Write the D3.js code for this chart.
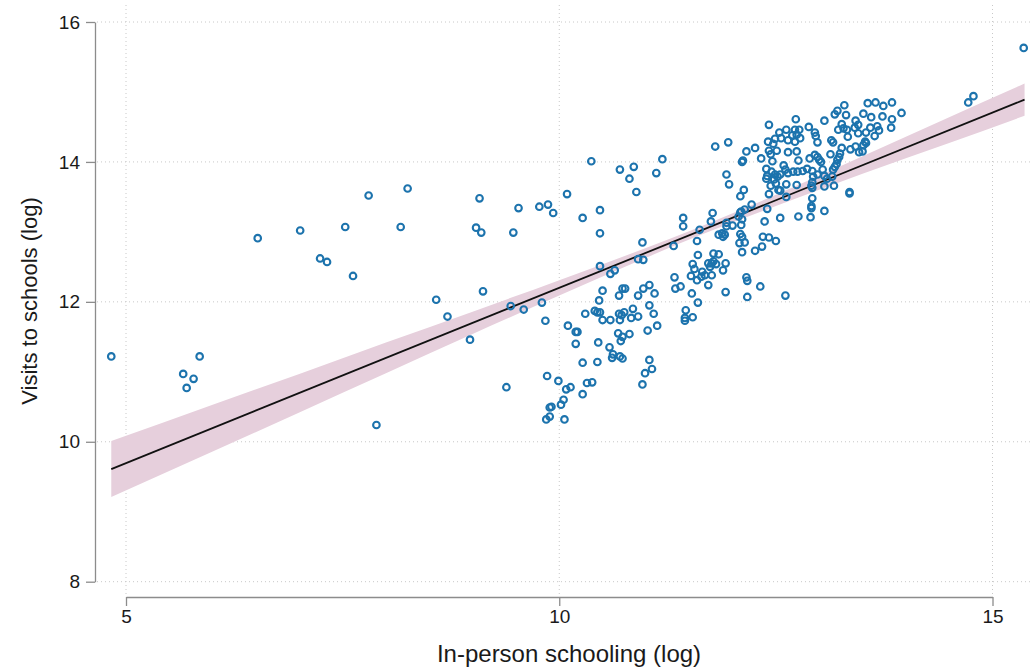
<!DOCTYPE html>
<html>
<head>
<meta charset="utf-8">
<script src="https://cdn.jsdelivr.net/npm/d3@7"></script>
<style>
  html, body { margin: 0; padding: 0; background: #fff; }
  svg { display: block; font-family: "Liberation Sans", Arial, Helvetica, sans-serif; }
</style>
</head>
<body>
<svg id="chart" width="1032" height="672"></svg>
<script>
// ---- data ----
const xTicks = [5, 10, 15];
const yTicks = [8, 10, 12, 14, 16];
const xTitle = "In-person schooling (log)";
const yTitle = "Visits to schools (log)";

// fitted line endpoints
const fitX = [4.83, 15.37];
const fitY = [9.61, 14.89];

// confidence band
const bandX  = [4.83, 6, 7, 8, 9, 10, 11, 11.6, 12.5, 13.5, 14.5, 15.37];
const bandLo = [9.21, 9.86, 10.42, 10.98, 11.54, 12.09, 12.63, 12.94, 13.37, 13.83, 14.27, 14.66];
const bandHi = [10.01, 10.53, 10.97, 11.42, 11.86, 12.31, 12.77, 13.06, 13.53, 14.08, 14.64, 15.12];

// scatter points
const ptX = [
4.83,5.66,5.85,5.78,5.70,6.52,7.01,7.53,7.24,7.32,7.62,7.80,8.25,8.17,7.89,9.08,9.04,9.10,9.47,9.53,
9.77,9.87,9.93,10.09,10.37,10.70,10.86,10.81,11.12,11.19,10.89,10.27,10.47,10.47,10.96,11.43,11.43,11.32,11.59,11.60,
10.47,10.59,10.64,10.91,10.97,11.54,11.56,11.52,11.59,11.33,11.34,11.40,11.53,11.60,11.04,10.97,11.10,10.91,10.73,10.76,
10.69,10.50,10.46,8.58,9.12,8.71,9.44,9.59,9.80,9.84,8.97,10.10,10.19,10.21,10.19,10.30,10.41,10.44,10.47,10.50,
10.59,10.69,10.70,10.72,10.75,10.85,10.83,10.91,11.04,11.09,11.02,11.13,10.68,10.73,10.81,10.71,10.45,10.58,11.46,11.45,
11.45,11.54,
9.39,9.86,9.99,10.08,10.13,10.05,10.02,9.91,9.89,9.89,9.85,10.06,10.27,10.32,10.38,10.27,10.44,10.62,10.61,10.70,
10.73,11.04,11.07,10.99,10.96,
11.72,11.80,11.77,11.75,11.84,11.78,11.65,11.68,11.64,11.72,11.76,11.74,11.81,11.76,
13.29,13.56,13.65,13.21,13.18,13.31,13.51,13.60,13.06,12.73,12.42,13.26,13.42,13.45,13.41,13.59,13.67,12.88,12.72,12.77,
13.22,13.28,13.32,12.62,12.54,12.95,12.96,12.69,12.74,12.78,12.98,13.14,13.16,13.33,13.45,13.54,13.64,12.64,12.56,12.49,
12.41,12.47,12.72,12.51,12.42,12.26,12.16,11.95,12.33,12.44,12.46,12.64,12.74,12.76,12.89,12.95,12.98,13.00,13.02,13.13,
13.26,13.36,13.42,13.50,13.54,13.24,13.23,13.21,13.20,13.18,13.16,12.12,12.11,11.93,11.96,12.39,12.45,12.40,12.49,12.55,
12.59,12.61,12.64,12.70,12.75,12.81,12.86,12.92,12.93,12.98,13.04,13.06,12.92,12.91,12.92,13.09,13.15,13.06,13.17,12.48,
12.52,12.39,12.44,12.50,12.53,12.55,12.62,12.74,12.42,12.62,12.13,12.09,13.35,13.35,12.92,12.91,12.91,13.06,12.76,12.90,
12.55,12.37,12.40,12.22,12.14,12.09,12.07,12.10,11.93,11.93,12.00,12.10,12.11,11.88,11.91,11.89,11.62,12.09,12.11,12.08,
12.14,12.35,12.42,12.50,12.34,12.26,12.11,11.84,11.78,11.92,11.89,12.16,12.17,11.92,12.17,12.32,12.61,
13.74,13.84,13.73,13.84,13.95,13.69,13.83,13.53,13.51,13.46,14.72,14.78,15.36
];
const ptY = [
11.22,10.97,11.22,10.90,10.77,12.91,13.02,13.07,12.62,12.57,12.37,13.52,13.62,13.07,10.24,13.48,13.06,12.99,12.99,13.34,
13.36,13.39,13.27,13.54,14.01,13.89,13.93,13.76,13.84,14.04,13.57,13.20,13.31,12.98,12.85,13.20,13.08,12.80,12.87,12.67,
12.51,12.40,12.45,12.61,12.60,12.54,12.47,12.37,12.31,12.35,12.19,12.22,12.12,11.99,12.24,12.19,12.12,12.09,12.19,12.19,
12.09,12.16,12.02,12.03,12.15,11.79,11.94,11.89,11.99,11.73,11.46,11.66,11.57,11.57,11.40,11.83,11.87,11.85,11.85,11.74,
11.74,11.83,11.74,11.81,11.85,11.90,11.77,11.79,11.95,11.83,11.59,11.66,11.55,11.50,11.54,11.44,11.42,11.35,11.88,11.77,
11.73,11.78,
10.78,10.94,10.87,10.75,10.78,10.60,10.53,10.50,10.49,10.36,10.32,10.32,10.68,10.84,10.85,11.13,11.14,11.25,11.20,11.22,
11.19,11.17,11.04,10.98,10.82,
12.24,14.22,13.27,13.15,12.96,12.69,12.43,12.38,12.36,12.55,12.55,12.50,12.54,12.38,
14.81,14.84,14.85,14.73,14.68,14.67,14.69,14.64,14.59,14.61,14.53,14.54,14.59,14.53,14.49,14.49,14.51,14.50,14.46,14.46,
14.46,14.48,14.46,14.46,14.42,14.42,14.37,14.38,14.39,14.34,14.28,14.31,14.28,14.36,14.41,14.42,14.37,14.31,14.34,14.33,
14.29,14.26,14.29,14.16,14.16,14.20,14.15,14.28,14.05,14.11,14.01,14.14,14.15,14.02,14.05,14.10,14.07,14.03,14.00,14.11,
14.20,14.18,14.22,14.15,14.27,14.12,14.07,14.03,13.97,13.93,13.89,14.02,14.00,13.82,13.68,13.90,13.86,13.80,13.82,13.82,
13.95,13.89,13.84,13.86,13.86,13.87,13.90,13.87,13.79,13.82,13.89,13.80,13.71,13.66,13.63,13.76,13.79,13.65,13.66,13.75,
13.79,13.76,13.66,13.69,13.60,13.59,13.68,13.67,13.54,13.50,13.60,13.51,13.55,13.57,13.48,13.34,13.37,13.30,13.22,13.21,
13.20,13.15,13.33,13.39,13.32,13.28,13.22,13.29,13.13,13.08,13.09,13.10,13.18,12.98,12.96,12.93,13.03,12.97,12.93,12.84,
12.85,12.93,12.92,12.87,12.79,12.73,12.71,12.68,12.58,12.55,12.45,12.35,12.30,12.14,12.07,12.22,12.09,
14.80,14.85,14.65,14.61,14.70,14.45,14.49,14.29,14.24,14.14,14.85,14.94,15.63
];

// ---- drawing ----
const svg = d3.select("#chart");
const x = d3.scaleLinear().domain([5, 15]).range([126, 992.5]);
const y = d3.scaleLinear().domain([8, 16]).range([581.7, 22]);

const plotLeft = 97, plotRight = 1032, plotTop = 5, plotBottom = 594;
const gridColor = "#c8c8c8";
const axisColor = "#8c8c8c";
const textColor = "#1a1a1a";

// gridlines
svg.append("g").selectAll("line").data(yTicks).join("line")
  .attr("x1", plotLeft).attr("x2", plotRight)
  .attr("y1", d => y(d)).attr("y2", d => y(d))
  .attr("stroke", gridColor).attr("stroke-width", 1)
  .attr("stroke-dasharray", "1,3");
svg.append("g").selectAll("line").data(xTicks).join("line")
  .attr("x1", d => x(d)).attr("x2", d => x(d))
  .attr("y1", plotTop).attr("y2", plotBottom)
  .attr("stroke", gridColor).attr("stroke-width", 1)
  .attr("stroke-dasharray", "1,3");

// confidence band
const band = bandX.map((v, i) => ({x: v, lo: bandLo[i], hi: bandHi[i]}));
svg.append("path").datum(band)
  .attr("fill", "#e6cfdc")
  .attr("d", d3.area().x(d => x(d.x)).y0(d => y(d.lo)).y1(d => y(d.hi)).curve(d3.curveMonotoneX));

// fitted line
svg.append("path").datum(fitX.map((v, i) => [v, fitY[i]]))
  .attr("fill", "none").attr("stroke", "#111").attr("stroke-width", 1.8)
  .attr("d", d3.line().x(d => x(d[0])).y(d => y(d[1])));

// points
svg.append("g").selectAll("circle").data(ptX.map((v, i) => [v, ptY[i]])).join("circle")
  .attr("cx", d => x(d[0])).attr("cy", d => y(d[1])).attr("r", 3.3)
  .attr("fill", "none").attr("stroke", "#1c73ad").attr("stroke-width", 2.1);

// y axis
const yAxis = svg.append("g").attr("transform", "translate(95,0)")
  .call(d3.axisLeft(y).tickValues(yTicks).tickSize(9).tickSizeOuter(0).tickPadding(6).tickFormat(d3.format("d")));
yAxis.select(".domain").attr("stroke", axisColor).attr("stroke-width", 1.3);
yAxis.selectAll(".tick line").attr("stroke", axisColor).attr("stroke-width", 1.3);
yAxis.selectAll(".tick text").attr("fill", textColor).style("font-size", "19px");

// x axis
const xAxis = svg.append("g").attr("transform", "translate(0,597)")
  .call(d3.axisBottom(x).tickValues(xTicks).tickSize(9).tickSizeOuter(0).tickPadding(4).tickFormat(d3.format("d")));
xAxis.select(".domain").attr("stroke", axisColor).attr("stroke-width", 1.3);
xAxis.selectAll(".tick line").attr("stroke", axisColor).attr("stroke-width", 1.3);
xAxis.selectAll(".tick text").attr("fill", textColor).style("font-size", "19px");

// titles
svg.append("text").attr("x", 569).attr("y", 662).attr("text-anchor", "middle")
  .attr("fill", textColor).style("font-size", "24px").text(xTitle);
svg.append("text").attr("transform", "translate(37,301) rotate(-90)").attr("text-anchor", "middle")
  .attr("fill", textColor).style("font-size", "22px").text(yTitle);
</script>
</body>
</html>
